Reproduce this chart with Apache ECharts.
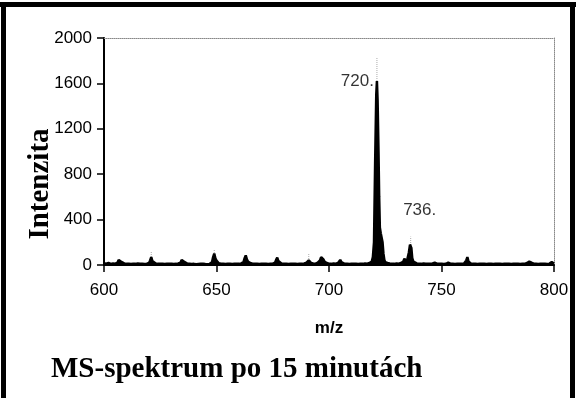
<!DOCTYPE html>
<html>
<head>
<meta charset="utf-8">
<script src="https://cdn.jsdelivr.net/npm/echarts@6/dist/echarts.min.js"></script>
<style>
html,body{margin:0;padding:0;background:#fff;}
#c{width:576px;height:398px;}
</style>
</head>
<body>
<div id="c"></div>
<script>
// m/z values and intensities
var mz = [600,601,602,603,604,605,606,606.5,607,607.5,608,609,610,611,612,613,614,615,616,617,618,619,620,620.5,621,621.5,622,623,624,625,626,627,628,629,630,631,632,633,634,634.5,635,635.5,636,637,638,639,640,641,642,643,644,645,646,647,648,648.5,649,649.5,650,650.5,651,652,653,654,655,656,657,658,659,660,661,662,662.5,663,663.5,664,665,666,667,668,669,670,671,672,673,674,675,676,676.5,677,677.5,678,679,680,681,682,683,684,685,686,687,688,689,690,690.5,691,691.5,692,693,694,695,696,696.5,697,697.5,698,699,700,701,702,703,704,704.5,705,705.5,706,707,708,709,710,711,712,713,714,715,716,717,718,719,719.5,720,720.5,721,721.3,721.6,722,722.3,722.6,723,723.4,723.8,724.2,724.6,725,726,727,728,729,730,731,732,733,733.5,734,734.5,735,735.5,736,736.3,736.6,737,737.5,738,739,740,741,742,743,744,745,746,747,748,749,750,751,752,753,754,755,756,757,758,759,760,761,761.5,762,763,764,765,766,767,768,769,770,771,772,773,774,775,776,777,778,779,780,781,782,783,784,785,786,787,788,789,789.5,790,791,792,793,794,795,796,797,798,799,800];
var intensity = [15,12,18,10,14,12,20,45,60,30,18,14,10,12,8,12,10,14,12,10,8,12,18,40,70,35,20,14,10,12,10,8,12,10,12,8,10,14,20,45,60,30,18,12,10,8,10,6,8,10,12,8,6,10,25,70,100,60,40,25,15,12,10,8,12,10,8,10,12,10,14,25,60,85,50,30,18,12,10,12,8,10,12,10,8,10,12,20,45,65,35,18,12,10,12,8,10,12,10,8,12,10,14,20,35,40,25,18,14,12,20,40,70,80,50,30,18,12,10,14,12,18,35,45,25,14,10,12,8,10,12,10,8,12,10,14,12,18,30,70,200,900,1500,1620,1450,1000,600,330,280,270,200,100,45,25,18,14,12,10,14,12,18,30,55,40,25,30,110,180,195,150,60,30,20,14,12,10,14,12,10,12,14,20,12,10,12,8,10,20,12,10,8,10,12,10,14,40,70,30,14,10,12,8,10,12,10,8,10,12,8,10,12,10,8,10,12,10,8,10,12,10,8,12,10,18,30,35,20,12,10,8,10,12,10,8,12,25,12];
// faint grey tips above the black peaks
var tipMz = [621, 649, 691, 721.3, 736.3];
var tipIntensity = [115, 135, 105, 1830, 250];
// labelled peaks
var labelMz = [721.3, 736.3];
var labelIntensity = [1620, 195];
var labelText = ['720.', '736.'];
var xTicks = [600, 650, 700, 750, 800];
var yTicks = [0, 400, 800, 1200, 1600, 2000];

var spectrum = mz.map(function (m, i) { return [m, intensity[i]]; });
var tips = [];
tipMz.forEach(function (m, i) { tips.push([m, 0], [m, tipIntensity[i]], [m, '-']); });
var labels = labelMz.map(function (m, i) { return [m, labelIntensity[i]]; });

var chart = echarts.init(document.getElementById('c'), null, {renderer: 'canvas'});
var sans = "'Liberation Sans', Arial, sans-serif";
var serif = "'Liberation Serif', 'Times New Roman', serif";
chart.setOption({
  animation: false,
  backgroundColor: '#fff',
  title: {
    text: 'MS-spektrum po 15 minutách',
    left: 46, top: 350,
    textStyle: {fontFamily: serif, fontWeight: 'bold', fontSize: 29, color: '#000'}
  },
  grid: {left: 104, right: 22, top: 38, bottom: 133},
  xAxis: [{
    type: 'value', min: xTicks[0], max: xTicks[xTicks.length - 1], interval: 50,
    name: 'm/z', nameLocation: 'middle', nameGap: 55,
    nameTextStyle: {fontFamily: sans, fontWeight: 'bold', fontSize: 17, color: '#000'},
    axisLine: {onZero: false, lineStyle: {color: '#000', width: 2}},
    axisTick: {show: true, inside: false, length: 7, lineStyle: {color: '#000', width: 1.5}},
    axisLabel: {margin: 17, fontFamily: sans, fontSize: 17, color: '#000', formatter: function (v) { return String(v); }},
    splitLine: {show: false}
  }, {
    type: 'value', position: 'top', min: 600, max: 800,
    axisLine: {show: true, onZero: false, lineStyle: {color: '#888', width: 1, type: 'dotted'}},
    axisTick: {show: false}, axisLabel: {show: false}, splitLine: {show: false}
  }],
  yAxis: [{
    type: 'value', min: yTicks[0], max: yTicks[yTicks.length - 1], interval: 400,
    axisLine: {show: true, lineStyle: {color: '#000', width: 2}},
    axisTick: {show: true, inside: false, length: 7, lineStyle: {color: '#000', width: 1.5}},
    axisLabel: {margin: 12, fontFamily: sans, fontSize: 17, color: '#000', formatter: function (v) { return String(v); }},
    splitLine: {show: false}
  }, {
    type: 'value', position: 'right', min: 0, max: 2000,
    axisLine: {show: true, onZero: false, lineStyle: {color: '#888', width: 1, type: 'dotted'}},
    axisTick: {show: false}, axisLabel: {show: false}, splitLine: {show: false}
  }],
  series: [{
    type: 'line', data: tips, symbol: 'none', connectNulls: false,
    lineStyle: {color: '#aaa', width: 1, type: 'dotted'}, z: 1
  }, {
    type: 'line', data: spectrum, symbol: 'none',
    lineStyle: {color: '#000', width: 2.5}, areaStyle: {color: '#000', opacity: 1}, z: 2
  }, {
    type: 'scatter', symbolSize: 0, z: 3,
    label: {show: true, fontFamily: sans, fontSize: 17, color: '#000',
      formatter: function (p) { return labelText[p.dataIndex]; }},
    data: [
      {value: labels[0], label: {position: 'left', distance: 3}},
      {value: labels[1], label: {position: 'top', distance: 5, offset: [9, -19]}}
    ]
  }],
  graphic: [
    {type: 'rect', shape: {x: 0, y: 2, width: 576, height: 5}, style: {fill: '#000'}},
    {type: 'rect', shape: {x: 1, y: 2, width: 5, height: 396}, style: {fill: '#000'}},
    {type: 'rect', shape: {x: 570, y: 2, width: 5, height: 396}, style: {fill: '#000'}},
    {type: 'text', x: 41, y: 184, rotation: Math.PI / 2,
      style: {text: 'Intenzita', font: "bold 29px 'Liberation Serif', 'Times New Roman', serif",
        fill: '#000', textAlign: 'center', textVerticalAlign: 'middle'}}
  ]
});
</script>
</body>
</html>
